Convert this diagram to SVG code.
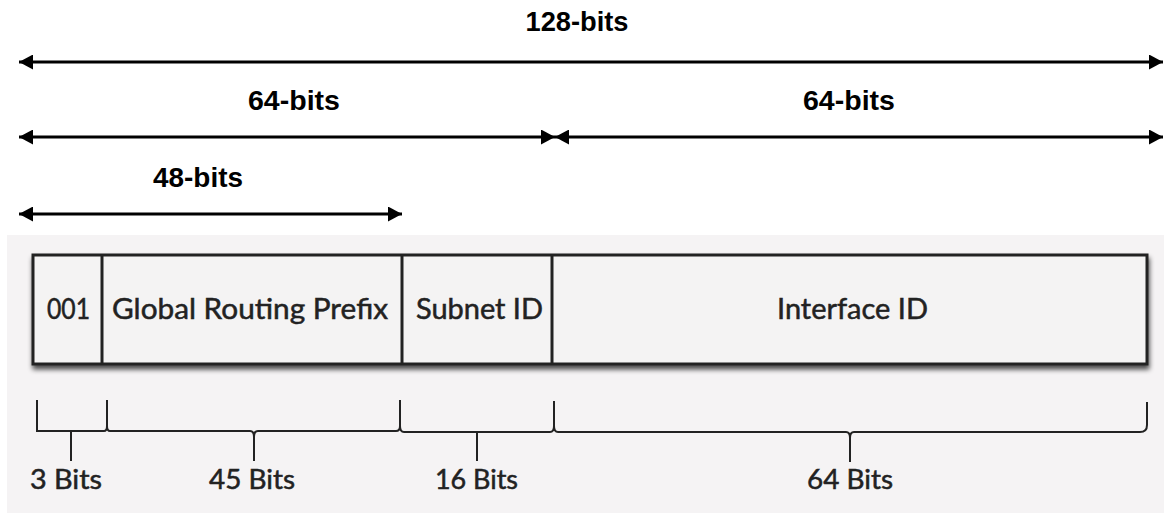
<svg xmlns="http://www.w3.org/2000/svg" width="1164" height="514" viewBox="0 0 1164 514">
  <style>
    .size { font-family: "Liberation Sans", Arial, sans-serif; font-weight: bold; font-size: 27px; fill: #000; }
    .dim { stroke: #000; stroke-width: 3; fill: none; }
    .field { fill: #f4f3f3; stroke: #222; stroke-width: 3; }
    .sep { stroke: #222; stroke-width: 3; }
    .lbl { font-family: Lato, "Open Sans", sans-serif; font-size: 28px; fill: #222; stroke: #222; stroke-width: 0.5; }
    .brace { stroke: #222; stroke-width: 2; fill: none; }
    .bits { font-family: Lato, "Open Sans", sans-serif; font-size: 26px; fill: #222; stroke: #222; stroke-width: 0.5; }
  </style>
  <defs>
    <marker id="head" viewBox="0 0 14 15" refX="14" refY="7.5" markerWidth="14" markerHeight="15" markerUnits="userSpaceOnUse" orient="auto-start-reverse">
      <path d="M0,0 L14,7.5 L0,15 Z" fill="#000"/>
    </marker>
    <filter id="shadow" x="-5%" y="-20%" width="110%" height="150%">
      <feGaussianBlur in="SourceAlpha" stdDeviation="2.5"/>
      <feOffset dx="1" dy="4" result="b"/>
      <feComponentTransfer><feFuncA type="linear" slope="0.7"/></feComponentTransfer>
      <feMerge><feMergeNode/><feMergeNode in="SourceGraphic"/></feMerge>
    </filter>
  </defs>

  <rect width="1164" height="514" fill="#fff"/>
  <!-- panel behind the address layout -->
  <rect x="7" y="235" width="1157" height="278" fill="#f5f3f4"/>

  <!-- width rulers -->
  <g id="connectors">
    <line class="dim" x1="19" y1="62" x2="1163" y2="62" marker-start="url(#head)" marker-end="url(#head)"/>
    <line class="dim" x1="19" y1="137" x2="555" y2="137" marker-start="url(#head)" marker-end="url(#head)"/>
    <line class="dim" x1="555" y1="137" x2="1163" y2="137" marker-start="url(#head)" marker-end="url(#head)"/>
    <line class="dim" x1="19" y1="214" x2="402" y2="214" marker-start="url(#head)" marker-end="url(#head)"/>
  </g>

  <g id="label-128">
    <text class="size" x="577" y="31" text-anchor="middle" textLength="103" lengthAdjust="spacingAndGlyphs">128-bits</text>
  </g>
  <g id="label-64-network">
    <text class="size" x="294" y="110" text-anchor="middle" textLength="92" lengthAdjust="spacingAndGlyphs">64-bits</text>
  </g>
  <g id="label-64-interface">
    <text class="size" x="849" y="110" text-anchor="middle" textLength="92" lengthAdjust="spacingAndGlyphs">64-bits</text>
  </g>
  <g id="label-48">
    <text class="size" x="198" y="187" text-anchor="middle" textLength="90" lengthAdjust="spacingAndGlyphs">48-bits</text>
  </g>

  <!-- address fields -->
  <g id="address" filter="url(#shadow)">
    <rect class="field" x="33" y="255" width="1114" height="109"/>
  </g>
  <g id="field-prefix">
    <line class="sep" x1="102" y1="255" x2="102" y2="364"/>
    <text class="lbl" x="47" y="319" textLength="43" lengthAdjust="spacingAndGlyphs">001</text>
  </g>
  <g id="field-global">
    <text class="lbl" x="112" y="319" textLength="276" lengthAdjust="spacingAndGlyphs">Global Routing Prefix</text>
  </g>
  <g id="field-subnet">
    <line class="sep" x1="402" y1="255" x2="402" y2="364"/>
    <text class="lbl" x="416" y="319" textLength="127" lengthAdjust="spacingAndGlyphs">Subnet ID</text>
  </g>
  <g id="field-interface">
    <line class="sep" x1="552" y1="255" x2="552" y2="364"/>
    <text class="lbl" x="777" y="319" textLength="151" lengthAdjust="spacingAndGlyphs">Interface ID</text>
  </g>

  <!-- bit-count braces -->
  <g id="braces">
    <path class="brace" d="M37,400 V431 H104 Q107,431 107,426 V400"/>
    <path class="brace" d="M107,426 Q107,431 110,431 H250 Q254,431 254,437 V461 M254,437 Q254,431 258,431 H396 Q400,431 400,426 V400"/>
    <path class="brace" d="M400,426 Q400,432 404,432 H477 V461 M477,432 H550 Q554,432 554,426 V401"/>
    <path class="brace" d="M554,426 Q554,432 558,432 H846 Q850,432 850,438 V462 M850,438 Q850,432 854,432 H1140 Q1147,432 1147,425 V402"/>
    <line class="brace" x1="71" y1="431" x2="71" y2="461"/>
  </g>
  <g id="bits-labels">
    <text class="bits" x="30" y="489" textLength="72" lengthAdjust="spacingAndGlyphs">3 Bits</text>
    <text class="bits" x="209" y="489" textLength="86" lengthAdjust="spacingAndGlyphs">45 Bits</text>
    <text class="bits" x="435" y="489" textLength="83" lengthAdjust="spacingAndGlyphs">16 Bits</text>
    <text class="bits" x="807" y="489" textLength="86" lengthAdjust="spacingAndGlyphs">64 Bits</text>
  </g>
</svg>
